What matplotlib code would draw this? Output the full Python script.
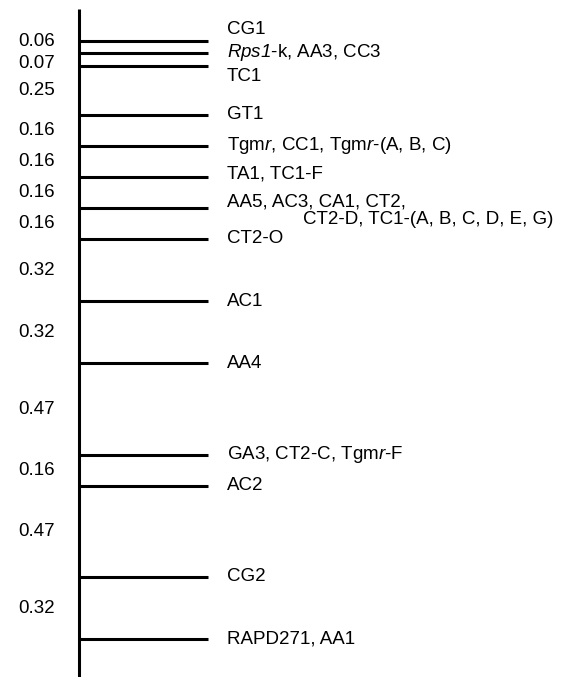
import matplotlib
matplotlib.use("Agg")
import matplotlib.pyplot as plt
import numpy as np

plt.rcParams['font.family'] = ['Liberation Sans', 'DejaVu Sans']
plt.rcParams['mathtext.fontset'] = 'custom'
plt.rcParams['mathtext.rm'] = 'Liberation Sans'
plt.rcParams['mathtext.it'] = 'Liberation Sans:italic'
plt.rcParams['mathtext.bf'] = 'Liberation Sans:italic'

# Interval distances between successive markers (top to bottom)
intervals = [0.06, 0.07, 0.25, 0.16, 0.16, 0.16, 0.16, 0.32, 0.32, 0.47, 0.16, 0.47, 0.32]
interval_labels = ["0.06", "0.07", "0.25", "0.16", "0.16", "0.16", "0.16",
                   "0.32", "0.32", "0.47", "0.16", "0.47", "0.32"]
marker_labels = [
    "CG1",
    r"$\mathbf{Rps1}$-k, AA3, CC3",
    "TC1",
    "GT1",
    r"Tgm$\mathbf{r}$, CC1, Tgm$\mathbf{r}$-(A, B, C)",
    "TA1, TC1-F",
    "AA5, AC3, CA1, CT2,",
    "CT2-O",
    "AC1",
    "AA4",
    r"GA3, CT2-C, Tgm$\mathbf{r}$-F",
    "AC2",
    "CG2",
    "RAPD271, AA1",
]
extra_line = "CT2-D, TC1-(A, B, C, D, E, G)"

positions = np.concatenate([[0.0], np.cumsum(intervals)])

W, H = 569, 677
FS = 13.5
fig = plt.figure(figsize=(W / 100, H / 100), dpi=100)
ax = fig.add_axes([0, 0, 1, 1])
ax.set_xlim(0, W)
px_per_unit = 194.2
y0 = 41
ax.set_ylim((H - y0) / px_per_unit, -y0 / px_per_unit)
ax.axis('off')

# chromosome backbone
ax.plot([79, 79], [(9 - y0) / px_per_unit, (H - y0) / px_per_unit + 0.05],
        color='black', lw=2.2, solid_capstyle='butt')

# text vertical offsets (points) for crowded labels
label_offsets = {0: 8, 2: -7.5, 5: 2, 6: 4.5, 7: 0.5}
for i, (p, lab) in enumerate(zip(positions, marker_labels)):
    ax.plot([79, 208], [p, p], color='black', lw=2.2, solid_capstyle='butt')
    dy = label_offsets.get(i, 0)
    ax.annotate(lab, (227, p), xytext=(0, dy), textcoords='offset points',
                ha='left', va='center', fontsize=FS)
    if i == 6:
        ax.annotate(extra_line, (303, p), xytext=(0, dy - 12.5),
                    textcoords='offset points', ha='left', va='center', fontsize=FS)

mids = (positions[:-1] + positions[1:]) / 2
int_offsets = {0: 3.6, 1: -3.2}
for i, (m, lab) in enumerate(zip(mids, interval_labels)):
    dy = int_offsets.get(i, 0)
    ax.annotate(lab, (55, m), xytext=(0, dy), textcoords='offset points',
                ha='right', va='center', fontsize=FS)

fig.savefig("out.png", dpi=100)
